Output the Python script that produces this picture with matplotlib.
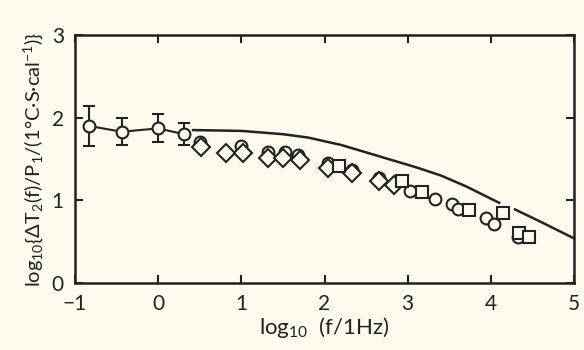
import matplotlib
matplotlib.use("Agg")
import matplotlib.pyplot as plt
import numpy as np

# Low-frequency points with error bars
xe = [-0.83, -0.44, 0.0, 0.31]
ye = [1.90, 1.83, 1.87, 1.80]
ee = [0.24, 0.16, 0.17, 0.13]

# Open circles
xc = [0.50, 1.00, 1.32, 1.52, 1.68, 2.04, 2.33, 2.65, 3.03, 3.33, 3.53, 3.61, 3.94, 4.04, 4.33]
yc = [1.71, 1.66, 1.59, 1.59, 1.55, 1.45, 1.37, 1.27, 1.11, 1.02, 0.96, 0.90, 0.79, 0.71, 0.56]

# Diamonds
xd = [0.52, 0.82, 1.02, 1.32, 1.50, 1.70, 2.04, 2.33, 2.65, 2.83]
yd = [1.65, 1.57, 1.57, 1.51, 1.51, 1.49, 1.39, 1.33, 1.23, 1.19]

# Squares
xs = [2.18, 2.93, 3.17, 3.74, 4.15, 4.34, 4.46]
ys = [1.42, 1.23, 1.10, 0.88, 0.85, 0.61, 0.56]

# Theory curve (two pieces, broken near 4.2)
xt1 = [0.42, 1.0, 1.5, 1.8, 2.2, 2.5, 2.8, 3.1, 3.4, 3.7, 4.1]
yt1 = [1.85, 1.84, 1.80, 1.76, 1.67, 1.58, 1.49, 1.40, 1.30, 1.17, 0.97]
xt2 = [4.29, 4.6, 5.0]
yt2 = [0.89, 0.74, 0.54]

xticks = [-1, 0, 1, 2, 3, 4, 5]
yticks = [0, 1, 2, 3]

bg = "#fdfaee"
ink = "#222222"

plt.rcParams["font.family"] = ["Lato", "DejaVu Sans"]
plt.rcParams["mathtext.default"] = "regular"

fig = plt.figure(figsize=(5.84, 3.5), dpi=100, facecolor=bg)
ax = fig.add_axes([75/584, 1-283/350, (574-75)/584, (283-35)/350])
ax.set_facecolor(bg)

ax.plot(xt1, yt1, color=ink, lw=1.8, zorder=2)
ax.plot(xt2, yt2, color=ink, lw=1.8, zorder=2)

ax.plot(xe, ye, color=ink, lw=1.5, zorder=2)
ax.errorbar(xe, ye, yerr=ee, fmt="o", ms=8.5, mfc=bg, mec=ink, mew=1.5,
            ecolor=ink, elinewidth=1.5, capsize=4.5, capthick=1.5, zorder=3)

ax.plot(xc, yc, "o", ms=8.5, mfc=bg, mec=ink, mew=1.5, zorder=4)
ax.plot(xd, yd, "D", ms=9, mfc=bg, mec=ink, mew=1.5, zorder=5)
ax.plot(xs, ys, "s", ms=9, mfc=bg, mec=ink, mew=1.5, zorder=6)

ax.set_xlim(-1, 5)
ax.set_ylim(0, 3)
ax.set_xticks(xticks)
ax.set_yticks(yticks)
ax.set_xticklabels([str(v).replace("-", "\u2212") for v in xticks])
ax.set_yticklabels([str(v) for v in yticks])
ax.tick_params(direction="in", length=6, width=1.5, color=ink,
               top=True, right=True, labelsize=15, labelcolor=ink, pad=8)
for s in ax.spines.values():
    s.set_linewidth(1.8)
    s.set_color(ink)

ax.set_xlabel(r"log$_{10}$  (f/1Hz)", fontsize=16, color=ink, labelpad=1)
ax.set_ylabel(r"log$_{10}${$\Delta$T$_2$(f)/P$_1$/(1°C·S·cal$^{-1}$)}",
              fontsize=14.5, color=ink, labelpad=5)

fig.savefig("out.png", dpi=100, facecolor=bg)
